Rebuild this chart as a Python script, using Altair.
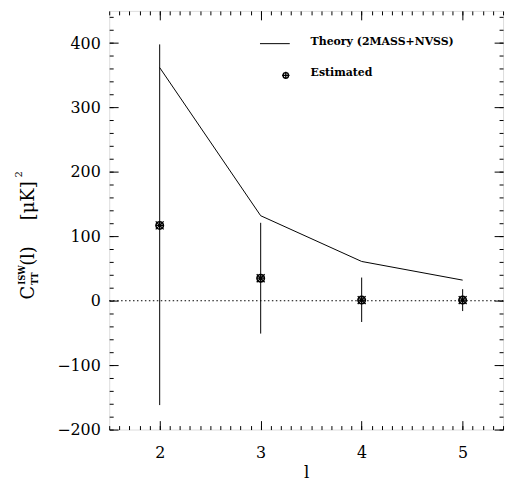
import altair as alt
import pandas as pd

# ---- data ----
ell = [2, 3, 4, 5]
theory = [362, 132, 61, 32]
estimated = [117, 35, 1, 1]
err_low = [-162, -51, -33, -16]
err_high = [398, 121, 36, 18]

x_domain = [1.5, 5.4]
y_domain = [-200, 450]
x_major = [2, 3, 4, 5]
x_minor = [round(1.5 + 0.1 * i, 1) for i in range(40)]
y_major = [-200, -100, 0, 100, 200, 300, 400]
y_minor = list(range(-200, 460, 20))

W, H = 397, 422
SERIF = "DejaVu Serif"

df = pd.DataFrame({"l": ell, "theory": theory, "est": estimated,
                   "lo": err_low, "hi": err_high})
zero_df = pd.DataFrame({"x0": [x_domain[0]], "x1": [x_domain[1]], "zero": [0]})

xs = alt.Scale(domain=x_domain, nice=False, zero=False)
ys = alt.Scale(domain=y_domain, nice=False, zero=False)


def tick_axis(orient, offset, values, size):
    return alt.Axis(orient=orient, offset=offset, values=values, tickSize=size,
                    labels=False, domain=False, grid=False, title=None,
                    tickColor="black", tickWidth=1)


x_lab_axis = alt.Axis(orient="bottom", values=x_major, ticks=False, tickSize=0,
                      domain=False, grid=False, labelFont=SERIF, labelFontSize=16,
                      labelColor="black", labelPadding=15, title="l",
                      titleFont=SERIF, titleFontSize=17, titleFontWeight="normal",
                      titleColor="black", titlePadding=4)
y_lab_axis = alt.Axis(orient="left", values=y_major, ticks=False, tickSize=0,
                      domain=False, grid=False, labelFont=SERIF, labelFontSize=16,
                      labelColor="black", labelPadding=9, title=None)

# theory line + label axes
line = alt.Chart(df).mark_line(color="black", strokeWidth=1).encode(
    x=alt.X("l:Q", scale=xs, axis=x_lab_axis),
    y=alt.Y("theory:Q", scale=ys, axis=y_lab_axis),
)

# error bars + inward major ticks (bottom / left)
errs = alt.Chart(df).mark_rule(color="black", strokeWidth=1).encode(
    x=alt.X("l:Q", scale=xs, axis=tick_axis("top", -H, x_major, 9)),
    y=alt.Y("lo:Q", scale=ys, axis=tick_axis("right", -W, y_major, 9)),
    y2="hi:Q",
)

# estimated points: circle + inward minor ticks (bottom / left)
pts = alt.Chart(df).mark_point(shape="circle", size=56, color="black",
                               filled=False, strokeWidth=1.6, opacity=1).encode(
    x=alt.X("l:Q", scale=xs, axis=tick_axis("top", -H, x_minor, 4)),
    y=alt.Y("est:Q", scale=ys, axis=tick_axis("right", -W, y_minor, 4)),
)

# asterisk inside + inward major ticks (top / right)
star = alt.Chart(df).mark_point(shape="M-1,-1L1,1M-1,1L1,-1M0,-1L0,1M-1,0L1,0",
                                size=64, color="black", strokeWidth=1.3,
                                opacity=1).encode(
    x=alt.X("l:Q", scale=xs, axis=tick_axis("bottom", -H, x_major, 9)),
    y=alt.Y("est:Q", scale=ys, axis=tick_axis("left", -W, y_major, 9)),
)

# dotted zero line + inward minor ticks (top / right)
zline = alt.Chart(zero_df).mark_rule(color="black", strokeWidth=1,
                                     strokeDash=[1.5, 2.5]).encode(
    x=alt.X("x0:Q", scale=xs, axis=tick_axis("bottom", -H, x_minor, 4)),
    x2="x1:Q",
    y=alt.Y("zero:Q", scale=ys, axis=tick_axis("left", -W, y_minor, 4)),
)


def txt(s, x, y, size, angle=0, weight="normal", align="left"):
    d = pd.DataFrame({"t": [s]})
    kw = dict(font=SERIF, fontSize=size, fontWeight=weight, color="black",
              align=align, baseline="middle")
    if angle:
        kw["angle"] = angle
    return alt.Chart(d).mark_text(**kw).encode(
        x=alt.value(x), y=alt.value(y), text="t:N")


# y axis title pieces: C_TT^ISW(l) [muK]^2 (rotated)
ylab = [
    txt("C", -81, 291, 18, 270),
    txt("ISW", -88, 276, 8.5, 270, "bold"),
    txt("TT", -75, 276, 8.5, 270, "bold"),
    txt("(l)", -81, 257, 18, 270),
    txt("[\u03bcK]", -81, 211, 18, 270),
    txt("2", -91, 168, 10, 270),
]

# legend
leg_df = pd.DataFrame({"a": [0]})
leg_line = alt.Chart(leg_df).mark_rule(color="black", strokeWidth=1).encode(
    x=alt.value(152), x2=alt.value(182), y=alt.value(33))
leg_c = alt.Chart(leg_df).mark_point(shape="circle", size=30, color="black",
                                     strokeWidth=1.4, opacity=1).encode(
    x=alt.value(178), y=alt.value(65))
leg_p = alt.Chart(leg_df).mark_point(shape="M0,-1L0,1M-1,0L1,0", size=56,
                                     color="black", strokeWidth=1.3,
                                     opacity=1).encode(
    x=alt.value(178), y=alt.value(65))
leg_t1 = txt("Theory (2MASS+NVSS)", 203, 31, 11, weight="bold")
leg_t2 = txt("Estimated", 203, 63, 11, weight="bold")

chart = alt.layer(
    line, errs, pts, star, zline, *ylab, leg_line, leg_c, leg_p, leg_t1, leg_t2
).resolve_axis(x="independent", y="independent").properties(
    width=W, height=H,
    autosize=alt.AutoSizeParams(type="none"),
    padding={"left": 102, "top": 1, "right": 6, "bottom": 60},
).configure_view(stroke="black", strokeWidth=1.2).configure(background="white")

chart.save("out.html", embed_options={"renderer": "svg", "actions": False})
